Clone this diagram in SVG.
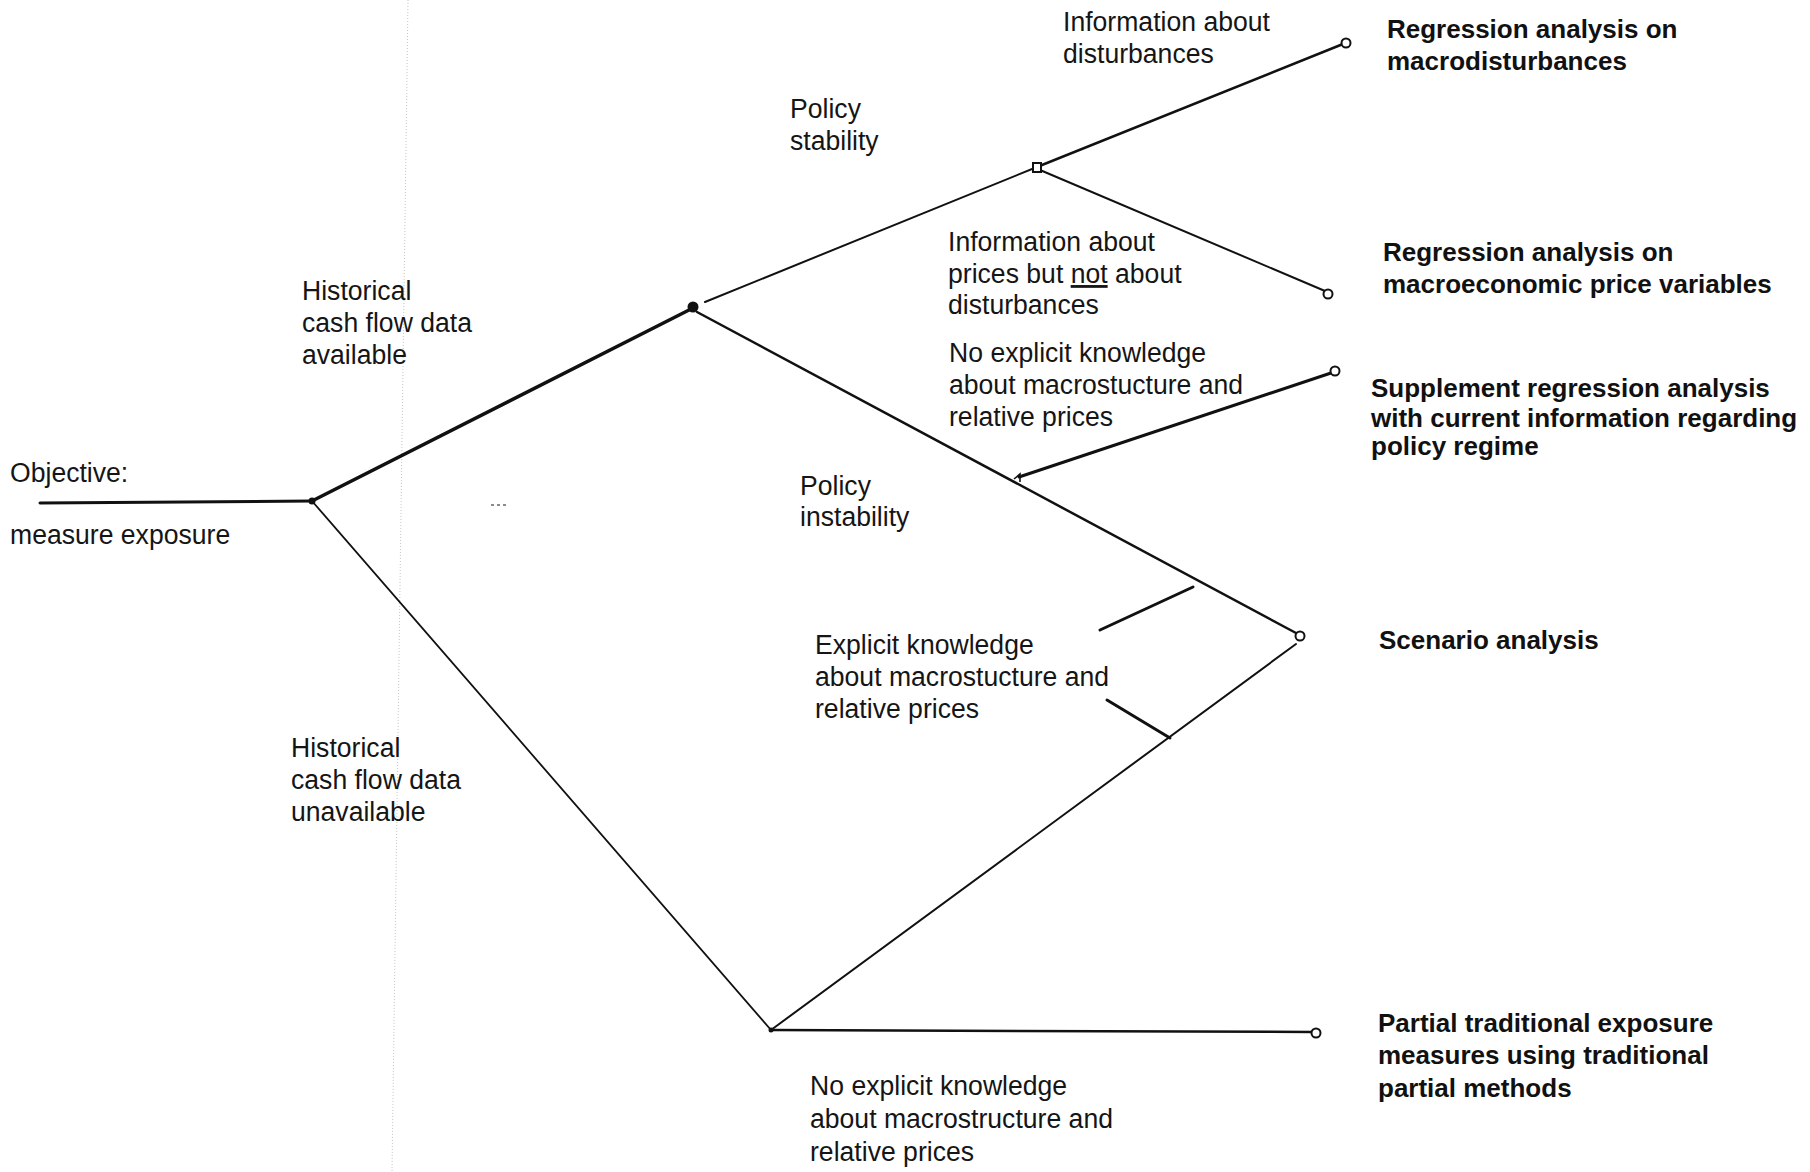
<svg xmlns="http://www.w3.org/2000/svg" width="1810" height="1172" viewBox="0 0 1810 1172">
<style>
.t{font-family:"Liberation Sans",Arial,sans-serif;font-size:28px;fill:#151515}
.b{font-family:"Liberation Sans",Arial,sans-serif;font-size:26px;font-weight:bold;fill:#111}
.c{stroke:#111;fill:none;stroke-linecap:round}
.end{fill:#fff;stroke:#111;stroke-width:2}
.dot{fill:#111}
</style>
<rect width="1810" height="1172" fill="#fff"/>
<line x1="408" y1="0" x2="392" y2="1172" stroke="#c4c4c4" stroke-width="1" stroke-dasharray="1 2"/>
<line x1="491" y1="505" x2="507" y2="505" stroke="#666" stroke-width="1.5" stroke-dasharray="3 3"/>

<g id="connectors">
  <line class="c" x1="40" y1="503" x2="312" y2="501" stroke-width="3"/>
  <line class="c" x1="312" y1="501" x2="693" y2="308" stroke-width="3.5"/>
  <line class="c" x1="312" y1="501" x2="771" y2="1030" stroke-width="1.8"/>
  <line class="c" x1="705" y1="302" x2="1037" y2="167" stroke-width="2"/>
  <line class="c" x1="1037" y1="167" x2="1343" y2="44" stroke-width="2.5"/>
  <line class="c" x1="1040" y1="170" x2="1325" y2="291" stroke-width="2"/>
  <line class="c" x1="697" y1="312" x2="1296" y2="633" stroke-width="2.5"/>
  <line class="c" x1="1019" y1="477" x2="1331" y2="373" stroke-width="3"/>
  <line class="c" x1="1193" y1="587" x2="1100" y2="630" stroke-width="3"/>
  <line class="c" x1="771" y1="1030" x2="1296" y2="644" stroke-width="2"/>
  <line class="c" x1="1170" y1="738" x2="1107" y2="700" stroke-width="3"/>
  <line class="c" x1="771" y1="1030" x2="1312" y2="1032" stroke-width="2.5"/>
</g>

<g id="edge-labels">
  <text class="t" transform="translate(1063,31) scale(0.95,1)"><tspan x="0" y="0">Information about</tspan><tspan x="0" y="32">disturbances</tspan></text>
  <text class="t" transform="translate(790,118) scale(0.95,1)"><tspan x="0" y="0">Policy</tspan><tspan x="0" y="32">stability</tspan></text>
  <text class="t" transform="translate(302,300) scale(0.95,1)"><tspan x="0" y="0">Historical</tspan><tspan x="0" y="32">cash flow data</tspan><tspan x="0" y="64">available</tspan></text>
  <text class="t" transform="translate(948,251) scale(0.95,1)"><tspan x="0" y="0">Information about</tspan><tspan x="0" y="32">prices but <tspan text-decoration="underline">not</tspan> about</tspan><tspan x="0" y="63">disturbances</tspan></text>
  <text class="t" transform="translate(949,362) scale(0.95,1)"><tspan x="0" y="0">No explicit knowledge</tspan><tspan x="0" y="32">about macrostucture and</tspan><tspan x="0" y="64">relative prices</tspan></text>
  <text class="t" transform="translate(800,495) scale(0.95,1)"><tspan x="0" y="0">Policy</tspan><tspan x="0" y="31">instability</tspan></text>
  <text class="t" transform="translate(815,654) scale(0.95,1)"><tspan x="0" y="0">Explicit knowledge</tspan><tspan x="0" y="32">about macrostucture and</tspan><tspan x="0" y="64">relative prices</tspan></text>
  <text class="t" transform="translate(291,757) scale(0.95,1)"><tspan x="0" y="0">Historical</tspan><tspan x="0" y="32">cash flow data</tspan><tspan x="0" y="64">unavailable</tspan></text>
  <text class="t" transform="translate(810,1095) scale(0.95,1)"><tspan x="0" y="0">No explicit knowledge</tspan><tspan x="0" y="33">about macrostructure and</tspan><tspan x="0" y="66">relative prices</tspan></text>
</g>

<g id="node-objective">
  <circle class="dot" cx="312" cy="501" r="3.5"/>
  <text class="t" transform="translate(10,482) scale(0.95,1)">Objective:</text>
  <text class="t" transform="translate(10,544) scale(0.95,1)">measure exposure</text>
</g>
<g id="node-a"><circle class="dot" cx="693" cy="307" r="5.5"/></g>
<g id="node-b"><rect x="1033" y="163" width="8" height="9" fill="#fff" stroke="#111" stroke-width="2"/></g>
<g id="node-c"><path d="M1014,479 L1020,474 L1020,482" fill="none" stroke="#111" stroke-width="1.6"/></g>
<g id="node-d"><circle class="dot" cx="771" cy="1030" r="2.5"/></g>

<g id="end-macrodisturbances">
  <circle class="end" cx="1346" cy="43" r="4.5"/>
  <text class="b"><tspan x="1387" y="38">Regression analysis on</tspan><tspan x="1387" y="70">macrodisturbances</tspan></text>
</g>
<g id="end-price-variables">
  <circle class="end" cx="1328" cy="294" r="4.5"/>
  <text class="b"><tspan x="1383" y="261">Regression analysis on</tspan><tspan x="1383" y="293">macroeconomic price variables</tspan></text>
</g>
<g id="end-supplement">
  <circle class="end" cx="1335" cy="371" r="4.5"/>
  <text class="b"><tspan x="1371" y="397">Supplement regression analysis</tspan><tspan x="1371" y="427">with current information regarding</tspan><tspan x="1371" y="455">policy regime</tspan></text>
</g>
<g id="end-scenario">
  <circle class="end" cx="1300" cy="636" r="4.5"/>
  <text class="b" x="1379" y="649">Scenario analysis</text>
</g>
<g id="end-partial">
  <circle class="end" cx="1316" cy="1033" r="4.5"/>
  <text class="b"><tspan x="1378" y="1032">Partial traditional exposure</tspan><tspan x="1378" y="1064">measures using traditional</tspan><tspan x="1378" y="1097">partial methods</tspan></text>
</g>
</svg>
